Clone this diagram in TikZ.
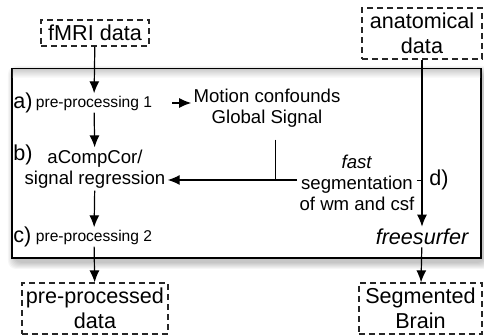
\documentclass[tikz,border=0pt]{standalone}
\usepackage{fontspec}
\setmainfont{Liberation Sans}
\usetikzlibrary{arrows.meta, positioning, calc}

\newcommand{\bigtxt}{\fontsize{10.8}{12.5}\selectfont}
\newcommand{\medtxt}{\fontsize{9.3}{10.5}\selectfont}
\newcommand{\smalltxt}{\fontsize{7.8}{9}\selectfont}

\begin{document}
\begin{tikzpicture}[
    x=0.5pt, y=-0.5pt,
    datafile/.style={rectangle, draw=black!85, dash pattern=on 3pt off 2pt, line width=0.6pt, inner sep=1pt, align=center, font=\bigtxt},
    stage/.style={inner sep=1pt, align=center, font=\medtxt},
    substage/.style={inner sep=1pt, font=\smalltxt},
    tag/.style={inner sep=0pt, anchor=west, font=\bigtxt},
    arrow/.style={->, >={Latex[length=6pt,width=5pt]}, line width=0.6pt}
]
\useasboundingbox (0,0) rectangle (484,335);

% soft shadow under the processing frame
\foreach \d in {1,...,7}
    \fill[black, opacity=0.035, rounded corners=4pt] (12+3-\d,69+4-\d) rectangle (481+3+\d,258+4+\d);
\draw[line width=0.9pt, fill=white] (12,69) rectangle (481,258);
\shade[top color=black!18, bottom color=white] (12.9,69.9) rectangle (480.1,78);

% inputs and outputs
\node[datafile, minimum width=54pt, minimum height=13pt] (fmri) at (95,33) {fMRI data};
\node[datafile, minimum width=60pt, minimum height=25.5pt] (anat) at (422,33.5) {anatomical\\data};
\node[datafile, minimum width=73pt, minimum height=25.5pt] (outdata) at (95,308.5) {pre-processed\\data};
\node[datafile, minimum width=61.5pt, minimum height=25.5pt] (brain) at (420.5,308.5) {Segmented\\Brain};

% processing steps
\node[substage] (pp1) at (94,103) {pre-processing 1};
\node[stage] (motion) at (267,108) {Motion confounds\\Global Signal};
\node[stage] (regress) at (95,169) {aCompCor/\\signal regression};
\node[substage] (pp2) at (94,237) {pre-processing 2};
\node[stage] (segm) at (357,183) {\textit{fast}\\segmentation\\of wm and csf};
\node[inner sep=1pt, font=\bigtxt\itshape] (frees) at (422,237) {freesurfer};

\node[tag] (taga) at (13,103) {a)};
\node[tag] (tagb) at (13,155) {b)};
\node[tag] (tagc) at (13,237) {c)};
\node[tag] (tagd) at (429,180) {d)};

% connections
\draw[arrow] (fmri) -- (pp1);
\draw[arrow] ([xshift=9pt]pp1.east) -- (motion.west |- pp1.east);
\draw[arrow] (pp1) -- (regress);
\draw[arrow] (regress) -- (pp2);
\draw[arrow] (pp2) -- (outdata);
\draw[arrow] (anat) -- (frees);
\draw[arrow] (frees) -- (brain);
\draw (segm.east |- 0,180) -- (anat.south |- 0,180);
\draw[arrow] (segm.west |- 0,180) -- (regress.east |- 0,180);
\coordinate (join) at (275,180);
\draw (motion.south -| join) ++(0,10) -- (join);

\end{tikzpicture}
\end{document}
